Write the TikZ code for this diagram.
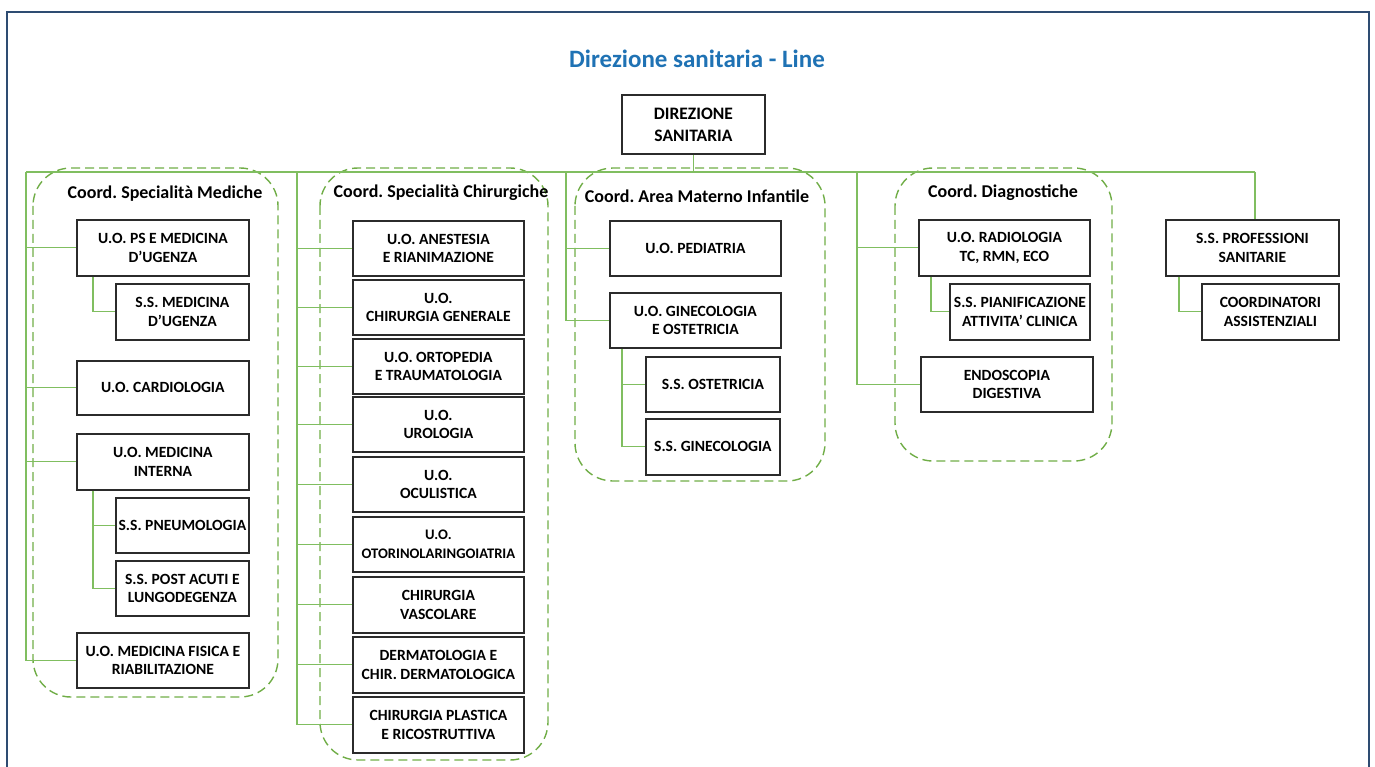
\documentclass[tikz,border=0pt]{standalone}
\usepackage{fontspec}
\setmainfont{Carlito}
\frenchspacing
\definecolor{frameblue}{HTML}{2E4C72}
\definecolor{titleblue}{HTML}{1F72B4}
\definecolor{lgreen}{HTML}{80BE60}
\definecolor{dgreen}{HTML}{70AD47}
\definecolor{boxline}{HTML}{2B2B2B}
\tikzset{
  unitbox/.style={draw=boxline, line width=1.8pt, fill=white, align=center, inner sep=0pt,
    font=\bfseries\fontsize{15.6}{18.3}\selectfont, text=black, anchor=north west},
  conn/.style={draw=lgreen, line width=1.15pt},
  grp/.style={draw=dgreen, line width=1.4pt, dash pattern=on 9pt off 5pt, rounded corners=38pt},
  grptitle/.style={font=\bfseries\fontsize{18}{20}\selectfont, text=black, inner sep=0pt},
}
\newcommand{\ubox}[6]{\node[unitbox, minimum width=#4-#2, minimum height=#5-#3] (#1) at (#2,#3) {#6};}
\begin{document}
\begin{tikzpicture}[x=1pt,y=-1pt]
\useasboundingbox (0,0) rectangle (1375,767);
% frame
\draw[frameblue, line width=2.4pt] (7,767) -- (7,12) -- (1369,12) -- (1369,767);
% title
\node[font=\bfseries\fontsize{25}{28}\selectfont, text=titleblue, inner sep=0pt] (title) at (697,59) {Direzione sanitaria - Line};
% dashed groups
\draw[grp] (33,168) rectangle (278,697);
\draw[grp] (320,168) rectangle (548,760);
\draw[grp] (575,168) rectangle (825,481);
\draw[grp] (895,168) rectangle (1112,461);
% group titles
\node[grptitle] (tmed) at (165,194) {Coord. Specialità Mediche};
\node[grptitle] (tchir) at (441,193) {Coord. Specialità Chirurgiche};
\node[grptitle] (tmat) at (697,196) {Coord. Area Materno Infantile};
\node[grptitle] (tdia) at (1003,193) {Coord. Diagnostiche};
% bus coordinates
\coordinate (busL) at (26,172);
\coordinate (busR) at (1255,172);
\coordinate (tmedx) at (26,172);
\coordinate (tchirx) at (297,172);
\coordinate (tmatx) at (566,172);
\coordinate (tdiax) at (857,172);
% top
\node[unitbox, minimum width=143, minimum height=59, font=\bfseries\fontsize{17.5}{22}\selectfont] (dir) at (621,94) {DIREZIONE\\SANITARIA};
% Mediche
\ubox{ps}{76}{219}{248}{275}{U.O. PS E MEDICINA\\D’UGENZA}
\ubox{ssmed}{115}{283}{248}{339}{S.S. MEDICINA\\D’UGENZA}
\ubox{card}{76}{360}{248}{414}{U.O. CARDIOLOGIA}
\ubox{medint}{76}{433}{248}{489}{U.O. MEDICINA\\INTERNA}
\ubox{pneu}{115}{497}{248}{552}{S.S. PNEUMOLOGIA}
\ubox{post}{115}{560}{248}{615}{S.S. POST ACUTI E\\LUNGODEGENZA}
\ubox{mfr}{76}{632}{248}{687}{U.O. MEDICINA FISICA E\\RIABILITAZIONE}
% Chirurgiche
\ubox{anest}{352}{220}{523}{275}{U.O. ANESTESIA\\E RIANIMAZIONE}
\ubox{chgen}{352}{279}{523}{334}{U.O.\\CHIRURGIA GENERALE}
\ubox{orto}{352}{338}{523}{393}{U.O. ORTOPEDIA\\E TRAUMATOLOGIA}
\ubox{uro}{352}{396}{523}{451}{U.O.\\UROLOGIA}
\ubox{ocu}{352}{456}{523}{511}{U.O.\\OCULISTICA}
\node[unitbox, minimum width=171, minimum height=55, font=\bfseries\fontsize{14.6}{18.3}\selectfont] (oto) at (352,516) {U.O.\\OTORINOLARINGOIATRIA};
\ubox{vasc}{352}{576}{523}{632}{CHIRURGIA\\VASCOLARE}
\ubox{derm}{352}{636}{523}{692}{DERMATOLOGIA E\\CHIR. DERMATOLOGICA}
\ubox{plast}{352}{696}{523}{752}{CHIRURGIA PLASTICA\\E RICOSTRUTTIVA}
% Materno
\ubox{ped}{609}{220}{780}{275}{U.O. PEDIATRIA}
\ubox{gin}{609}{292}{780}{347}{U.O. GINECOLOGIA\\E OSTETRICIA}
\ubox{ssost}{645}{356}{779}{411}{S.S. OSTETRICIA}
\ubox{ssgin}{645}{418}{779}{474}{S.S. GINECOLOGIA}
% Diagnostiche
\ubox{rad}{918}{219}{1089}{275}{U.O. RADIOLOGIA\\TC, RMN, ECO}
\ubox{pian}{949}{283}{1089}{339}{S.S. PIANIFICAZIONE\\ATTIVITA’ CLINICA}
\ubox{endo}{920}{356}{1092}{411}{ENDOSCOPIA\\DIGESTIVA}
% Professioni
\ubox{prof}{1165}{219}{1338}{275}{S.S. PROFESSIONI\\SANITARIE}
\ubox{coord}{1201}{283}{1338}{339}{COORDINATORI\\ASSISTENZIALI}
% sub-trunk coordinates
\coordinate (psx) at ([xshift=17pt]ps.south west);
\coordinate (mix) at ([xshift=17pt]medint.south west);
\coordinate (ginx) at ([xshift=13pt]gin.south west);
\coordinate (radx) at ([xshift=13pt]rad.south west);
\coordinate (profx) at ([xshift=14pt]prof.south west);
% connectors
\draw[conn] (dir.south) -- (dir.south |- busL);
\draw[conn] (busL) -- (busR);
\draw[conn] (busR) -- (busR |- prof.north);
% Mediche
\draw[conn] (tmedx) |- (mfr.west);
\foreach \n in {ps,card,medint} \draw[conn] (\n.west) -- (\n.west -| tmedx);
\draw[conn] (psx) |- (ssmed.west);
\draw[conn] (mix) |- (post.west);
\draw[conn] (pneu.west) -- (pneu.west -| mix);
% Chirurgiche
\draw[conn] (tchirx) |- (plast.west);
\foreach \n in {anest,chgen,orto,uro,ocu,oto,vasc,derm} \draw[conn] (\n.west) -- (\n.west -| tchirx);
% Materno
\draw[conn] (tmatx) |- (gin.west);
\draw[conn] (ped.west) -- (ped.west -| tmatx);
\draw[conn] (ginx) |- (ssgin.west);
\draw[conn] (ssost.west) -- (ssost.west -| ginx);
% Diagnostiche
\draw[conn] (tdiax) |- (endo.west);
\draw[conn] (rad.west) -- (rad.west -| tdiax);
\draw[conn] (radx) |- (pian.west);
% Professioni
\draw[conn] (profx) |- (coord.west);
\end{tikzpicture}
\end{document}
